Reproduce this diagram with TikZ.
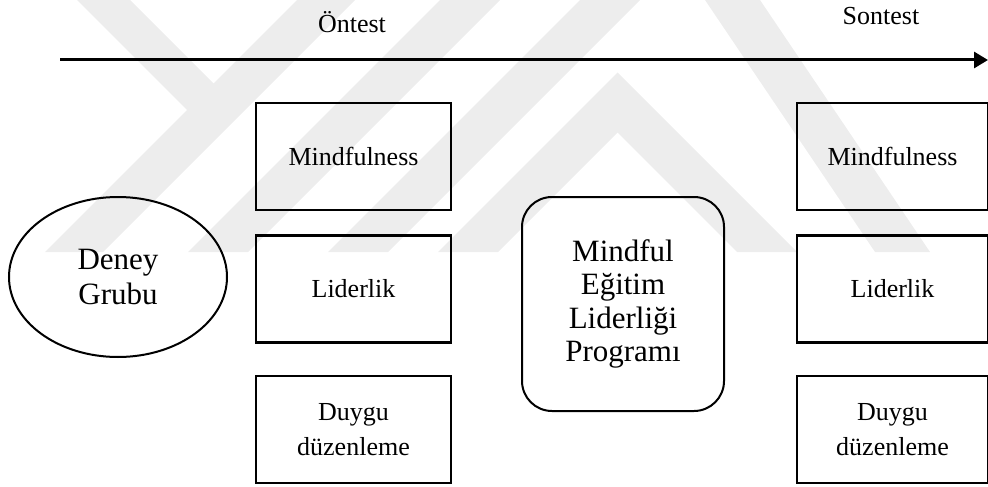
\documentclass[tikz,border=0pt]{standalone}
\usepackage{fontspec}
\setmainfont{Liberation Serif}
\usetikzlibrary{arrows.meta,shapes.geometric}
\definecolor{wm}{gray}{0.93}
\begin{document}
\begin{tikzpicture}[x=0.5pt,y=-0.5pt,
  box/.style={draw,line width=1.3pt,minimum width=97.5pt,minimum height=53.5pt,
    inner sep=0pt,align=center,font=\fontsize{13}{17.5}\selectfont},
  group/.style={draw,ellipse,line width=1pt,minimum width=109pt,minimum height=80pt,
    inner sep=0pt,align=center,font=\fontsize{15.5}{17.7}\selectfont},
  prog/.style={draw,rounded corners=15pt,line width=1pt,minimum width=101pt,
    minimum height=107pt,inner sep=0pt,align=center,font=\fontsize{15.5}{16.6}\selectfont},
  lbl/.style={font=\fontsize{13}{15}\selectfont,inner sep=0pt}]
\useasboundingbox (0,0) rectangle (988,486);
% watermark
\fill[wm] (77,0) -- (130,0) -- (230,100) -- (203.5,126.5) -- cycle;
\fill[wm] (297,0) -- (355,0) -- (103,252) -- (45,252) -- cycle;
\fill[wm] (440,0) -- (500,0) -- (248,252) -- (188,252) -- cycle;
\fill[wm] (580,0) -- (640,0) -- (388,252) -- (328,252) -- cycle;
\fill[wm] (438,252) -- (617.5,72.5) -- (797,252) -- (737,252) -- (617.5,132.5) -- (498,252) -- cycle;
\fill[wm] (705,0) -- (760,0) -- (930,252) -- (875,252) -- cycle;
% timeline
\coordinate (tl) at (60,60);
\coordinate (tr) at (988,60);
\draw[line width=1.5pt,-{Triangle[length=7pt,width=8pt]}] (tl) -- (tr);
\node[lbl] (pre) at (352,22) {Öntest};
\node[lbl] (post) at (881,16) {Sontest};
% left group
\node[group] (grp) at (118,277) {Deney\\Grubu};
% pre-test boxes
\node[box] (m1) at (353.5,156.5) {Mindfulness};
\node[box] (l1) at (353.5,289) {Liderlik};
\node[box] (d1) at (353.5,429.5) {Duygu\\düzenleme};
% programme
\node[prog] (pg) at (623,304) {Mindful\\Eğitim\\Liderliği\\Programı};
% post-test boxes
\node[box,minimum width=95.5pt] (m2) at (892.5,156.5) {Mindfulness};
\node[box,minimum width=95.5pt] (l2) at (892.5,289) {Liderlik};
\node[box,minimum width=95.5pt] (d2) at (892.5,429.5) {Duygu\\düzenleme};
\end{tikzpicture}
\end{document}
